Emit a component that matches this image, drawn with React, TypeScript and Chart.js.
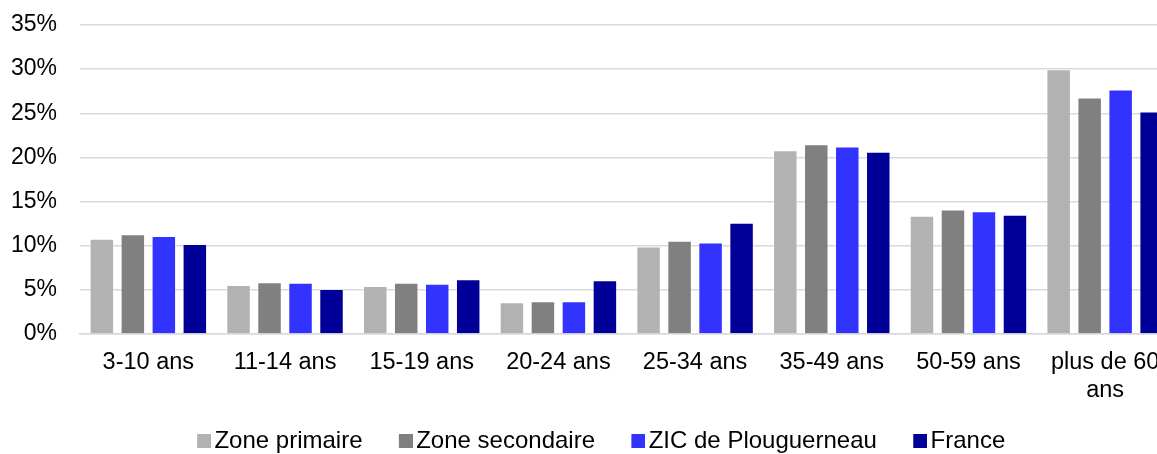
import React, { useEffect, useRef } from "react";
import { Chart, registerables } from "chart.js";

Chart.register(...registerables);

const categories: (string | string[])[] = [
  "3-10 ans",
  "11-14 ans",
  "15-19 ans",
  "20-24 ans",
  "25-34 ans",
  "35-49 ans",
  "50-59 ans",
  ["plus de 60", "ans"],
];

const zonePrimaire = [10.8, 5.55, 5.45, 3.6, 9.9, 20.8, 13.4, 30.0];
const zoneSecondaire = [11.3, 5.85, 5.8, 3.7, 10.55, 21.5, 14.1, 26.8];
const zicPlouguerneau = [11.1, 5.8, 5.7, 3.7, 10.35, 21.25, 13.9, 27.7];
const france = [10.2, 5.1, 6.2, 6.1, 12.6, 20.65, 13.5, 25.2];

const seriesNames = ["Zone primaire", "Zone secondaire", "ZIC de Plouguerneau", "France"];
const seriesColors = ["#b2b2b2", "#808080", "#3333ff", "#000099"];

const yTicks = [0, 5, 10, 15, 20, 25, 30, 35];

const FONT_FAMILY = "'Liberation Sans', Arial, sans-serif";
const LEGEND_PADDING = 20;
const LEGEND_BOX_SPACE = 21.7;
const LEGEND_HEIGHT = 45;
const X_AXIS_HEIGHT = 75;
const Y_AXIS_WIDTH = 80;
const RIGHT_SPACE = 12.5;
const CANVAS_WIDTH = 1186;

function makeLegendSwatch(color: string): HTMLCanvasElement {
  const c = document.createElement("canvas");
  c.width = 39;
  c.height = 14;
  const ctx = c.getContext("2d");
  if (ctx) {
    ctx.fillStyle = color;
    ctx.fillRect(25, 0, 14, 14);
  }
  return c;
}

export default function App() {
  const canvasRef = useRef<HTMLCanvasElement | null>(null);

  useEffect(() => {
    if (!canvasRef.current) return;
    const swatches = seriesColors.map(makeLegendSwatch);
    const series = [zonePrimaire, zoneSecondaire, zicPlouguerneau, france];

    const legendFitPlugin = {
      id: "legendFit",
      beforeLayout(chart: any) {
        const lg = chart.legend;
        if (lg && !lg._fitPatched) {
          const orig = lg.fit;
          lg.fit = function () {
            orig.call(this);
            this.height = LEGEND_HEIGHT;
          };
          lg._fitPatched = true;
        }
      },
    };

    const chart = new Chart(canvasRef.current, {
      type: "bar",
      data: {
        labels: categories,
        datasets: series.map((d, i) => ({
          label: seriesNames[i],
          data: d,
          backgroundColor: seriesColors[i],
          borderColor: "rgba(255,255,255,0.35)",
          borderWidth: 1,
          categoryPercentage: 0.907,
          barPercentage: 0.79,
        })),
      },
      plugins: [legendFitPlugin],
      options: {
        animation: false,
        responsive: true,
        maintainAspectRatio: false,
        layout: { padding: { left: 0, right: 0, top: 25, bottom: 0 } },
        plugins: {
          legend: {
            position: "bottom",
            labels: {
              font: { family: FONT_FAMILY, size: 24 },
              color: "#000",
              usePointStyle: true,
              boxWidth: LEGEND_BOX_SPACE,
              padding: LEGEND_PADDING,
              generateLabels: (ch: any) =>
                Chart.defaults.plugins.legend.labels
                  .generateLabels(ch)
                  .map((l: any, i: number) => ({ ...l, pointStyle: swatches[i] })),
            },
          },
          tooltip: { enabled: false },
        },
        scales: {
          x: {
            grid: { display: false, drawTicks: false },
            border: { display: true, color: "#d9d9d9", width: 1.5 },
            ticks: {
              font: { family: FONT_FAMILY, size: 23.5 },
              color: "#000",
              padding: 14,
              maxRotation: 0,
              autoSkip: false,
            },
            afterFit: (axis: any) => {
              axis.height = X_AXIS_HEIGHT;
              axis.paddingLeft = 0;
              axis.paddingRight = 0;
            },
          },
          y: {
            min: 0,
            max: 35,
            afterBuildTicks: (axis: any) => {
              axis.ticks = yTicks.map((v) => ({ value: v }));
            },
            grid: { color: "#d9d9d9", lineWidth: 1.5, drawTicks: false },
            border: { display: false },
            ticks: {
              font: { family: FONT_FAMILY, size: 23 },
              color: "#000",
              padding: 23,
              callback: (v: any) => v + "%",
            },
            afterFit: (axis: any) => {
              axis.width = Y_AXIS_WIDTH;
              axis.paddingTop = 0;
              axis.paddingBottom = 0;
            },
          },
          yRight: {
            type: "linear",
            position: "right",
            display: true,
            grid: { display: false, drawTicks: false },
            border: { display: false },
            ticks: { display: false },
            afterFit: (axis: any) => {
              axis.width = RIGHT_SPACE;
              axis.paddingTop = 0;
              axis.paddingBottom = 0;
            },
          },
        },
      },
    });
    return () => chart.destroy();
  }, []);

  return (
    <div
      style={{
        position: "absolute",
        left: 0,
        top: 0,
        width: 1157,
        height: 454,
        overflow: "hidden",
        background: "#fff",
      }}
    >
      <div style={{ position: "relative", width: CANVAS_WIDTH, height: 454 }}>
        <canvas ref={canvasRef} />
      </div>
    </div>
  );
}
